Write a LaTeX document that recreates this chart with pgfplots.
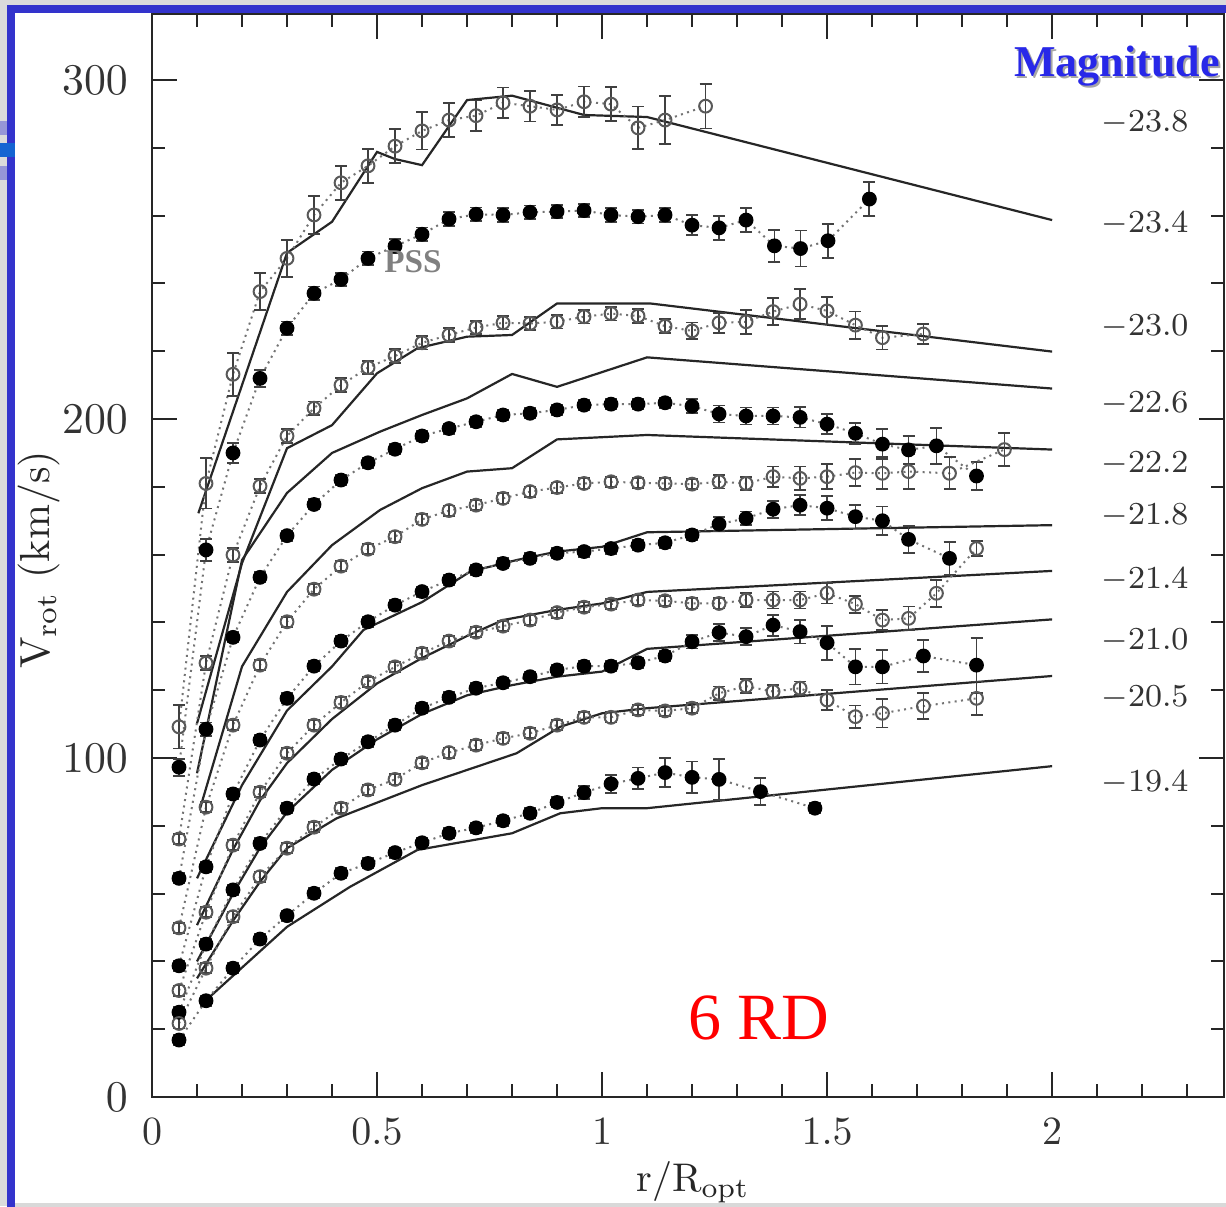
\documentclass[border=0pt]{standalone}
\usepackage{pgfplots}
\pgfplotsset{compat=1.18}
\usepackage{fontspec}
\newfontfamily\timesfont{Liberation Serif}
\definecolor{slideblue}{RGB}{51,51,204}
\definecolor{magblue}{RGB}{40,40,232}
\definecolor{stubblue}{RGB}{20,100,210}
\definecolor{lavender}{RGB}{150,150,215}
\pgfplotsset{
  dataline/.style={color=black!55, line width=0.5pt, dash pattern=on 0.5pt off 1.1pt,
    error bars/y dir=both, error bars/y explicit,
    error bars/error bar style={solid, line width=0.45pt, black!75},
    error bars/error mark options={rotate=90, mark size=1.5pt, solid, line width=0.45pt, black!75}},
  openS/.style={dataline, mark=o, mark size=1.6pt, mark options={solid, draw=black!65, line width=0.5pt, fill=none}},
  fillS/.style={dataline, mark=*, mark size=1.6pt, mark options={solid, draw=black, fill=black}},
  model/.style={black!85, line width=0.55pt, no markers, solid},
}
\begin{document}
\begin{tikzpicture}
\useasboundingbox (0,0) rectangle (306.5pt,301.5pt);
\clip (0,0) rectangle (306.5pt,301.5pt);
\begin{scope}[x=0.25pt,y=-0.25pt,yshift=301.5pt]
  \fill[gray!28] (0,0) rectangle (1226,1206);
  \fill[slideblue] (7,5) rectangle (1240,1210);
  \fill[white] (15,13) rectangle (1240,1203);
  \fill[gray!30] (15,1203) rectangle (1240,1210);
  \fill[lavender] (0,121) rectangle (7,135);
  \fill[stubblue] (0,143) rectangle (15,157);
  \fill[lavender] (0,166) rectangle (7,180);
\end{scope}
\begin{axis}[
  at={(38pt,27.25pt)}, anchor=south west, scale only axis,
  width=268pt, height=270.75pt,
  xmin=0, xmax=2.382, ymin=0, ymax=319.5,
  clip=false,
  axis line style={line width=0.6pt, black!85},
  xtick={0,0.5,1,1.5,2},
  minor xtick={0.1,0.2,0.3,0.4,0.6,0.7,0.8,0.9,1.1,1.2,1.3,1.4,1.6,1.7,1.8,1.9,2.1,2.2,2.3},
  ytick={0,100,200,300},
  minor ytick={20,40,60,80,120,140,160,180,220,240,260,280},
  xtick pos=both, ytick pos=both, xticklabel pos=lower, yticklabel pos=left,
  tick align=inside, major tick length=6.25pt, minor tick length=3.2pt,
  every tick/.style={line width=0.5pt, black!85},
  xticklabel style={font=\fontsize{10}{12}\selectfont, yshift=-2pt, text=black!80},
  yticklabel style={font=\fontsize{10.5}{12}\selectfont, xshift=-2.5pt, text=black!80},
]
% model curves
\addplot[model] coordinates {(0.103,172.2)(0.30,249)(0.40,258.2)(0.50,278.8)(0.54,276.7)(0.60,274.9)(0.70,294.1)(0.80,295.4)(0.96,289.7)(1.10,289.1)(2.0,258.7)};
\addplot[model] coordinates {(0.10,110.2)(0.20,157.5)(0.30,191.4)(0.40,198.2)(0.50,213.5)(0.59,220.9)(0.70,224.3)(0.80,224.8)(0.90,234.1)(1.107,234.1)(2.0,219.9)};
\addplot[model] coordinates {(0.10,95.5)(0.20,158.4)(0.30,178.2)(0.40,190)(0.507,196.3)(0.60,201.2)(0.70,206.1)(0.80,213.3)(0.90,209.5)(1.10,218.2)(2.0,209)};
\addplot[model] coordinates {(0.107,85.2)(0.20,127)(0.30,149)(0.40,162.8)(0.507,173.2)(0.60,179.6)(0.70,184.5)(0.80,185.5)(0.90,194)(1.10,195.3)(2.0,191)};
\addplot[model] coordinates {(0.10,64.5)(0.20,92)(0.30,114)(0.40,127)(0.47,137.8)(0.60,146)(0.707,155)(0.81,158.4)(0.90,160.9)(1.0,162.3)(1.10,166.6)(2.0,168.7)};
\addplot[model] coordinates {(0.10,50.7)(0.18,73)(0.24,87.5)(0.30,98.5)(0.40,111.5)(0.50,122)(0.60,129.5)(0.70,136)(0.78,140.7)(0.90,143.7)(1.0,145.6)(1.10,149)(2.0,155.2)};
\addplot[model] coordinates {(0.10,40)(0.18,60)(0.24,73.5)(0.30,84)(0.40,96.5)(0.50,105.5)(0.60,113)(0.70,118.5)(0.80,121.5)(0.90,124)(1.0,125.5)(1.10,132.2)(2.0,140.9)};
\addplot[model] coordinates {(0.10,35)(0.18,52)(0.24,63.5)(0.30,73.4)(0.41,82.2)(0.60,92)(0.81,101.4)(0.907,109.2)(1.0,113.2)(1.10,114.7)(2.0,124.2)};
\addplot[model] coordinates {(0.118,28.3)(0.30,50.2)(0.44,62)(0.59,72.9)(0.80,77.8)(0.907,83.7)(1.0,85.2)(1.1,85.2)(2.0,97.6)};
% S1 open
\addplot[openS] table[x index=0,y index=1,y error index=2,row sep=\\] {
0.06 109.2 6.4\\ 0.12 181 7.4\\ 0.18 213.2 6.4\\ 0.24 237.6 5.5\\ 0.30 247.4 5.5\\
0.36 260.2 5.5\\ 0.42 269.7 5\\ 0.48 274.7 5\\ 0.54 280.5 5\\ 0.60 285 5.5\\
0.66 288.2 5\\ 0.72 289.5 4.5\\ 0.78 293.3 4.5\\ 0.84 292.3 4.5\\ 0.90 291.2 4.5\\
0.96 293.6 4.5\\ 1.02 292.9 5\\ 1.08 285.9 6.3\\ 1.14 288.2 7\\ 1.23 292.3 6.6\\
};
% S2 filled
\addplot[fillS] table[x index=0,y index=1,y error index=2,row sep=\\] {
0.06 97.3 2.5\\ 0.12 161.4 3.2\\ 0.18 190 3\\ 0.24 212 2.5\\ 0.30 226.8 2\\
0.36 237.1 2\\ 0.42 241.2 2\\ 0.48 247.4 2\\ 0.54 251 2\\ 0.60 254.5 2\\
0.66 259 2\\ 0.72 260.4 2\\ 0.78 260.2 2\\ 0.84 261 2\\ 0.90 261.2 2\\
0.96 261.5 2\\ 1.02 260.2 2\\ 1.08 259.7 2\\ 1.14 260.2 2\\ 1.20 257.2 3\\
1.26 256.4 3.5\\ 1.32 258.7 3.5\\ 1.383 251.1 4.7\\ 1.441 250.3 5.3\\ 1.502 252.6 5\\
1.594 264.9 5\\
};
% S3 open
\addplot[openS] table[x index=0,y index=1,y error index=2,row sep=\\] {
0.06 76.1 1.5\\ 0.12 128 2\\ 0.18 159.9 2\\ 0.24 180.2 2\\ 0.30 195 2\\
0.36 203.2 2\\ 0.42 210 2\\ 0.48 215.2 2\\ 0.54 218.6 2\\ 0.60 222.5 2\\
0.66 224.8 2\\ 0.72 227 2\\ 0.78 228.4 2\\ 0.84 228.2 2\\ 0.90 228.7 2\\
0.96 230.2 2\\ 1.02 231.1 2\\ 1.08 230.4 2\\ 1.14 227.4 2\\ 1.20 226 2.5\\
1.26 228.4 3\\ 1.32 228.7 3.5\\ 1.38 231.7 4\\ 1.44 233.9 4.5\\ 1.50 231.9 4\\
1.563 227.7 4\\ 1.623 224 3.5\\ 1.714 225.1 3\\
};
% S4 filled
\addplot[fillS] table[x index=0,y index=1,y error index=2,row sep=\\] {
0.06 64.5 1.5\\ 0.12 108.5 2\\ 0.18 135.6 1.5\\ 0.24 153.3 1.5\\ 0.30 165.6 1.5\\
0.36 174.8 1.5\\ 0.42 182 1.5\\ 0.48 187.1 1.5\\ 0.54 191.1 1.5\\ 0.60 195 1.5\\
0.66 197.2 1.5\\ 0.72 199.2 1.5\\ 0.78 201.2 1.5\\ 0.84 201.7 1.5\\ 0.90 202.7 1.5\\
0.96 204.1 1.5\\ 1.02 204.4 1.5\\ 1.08 204.4 1.5\\ 1.14 204.8 1.5\\ 1.20 203.8 2\\
1.26 201.5 2.5\\ 1.32 200.9 2.5\\ 1.38 200.9 2.5\\ 1.44 200.5 3\\ 1.50 198.5 3\\
1.563 195.8 3.1\\ 1.623 192.6 4.5\\ 1.681 190.9 4.2\\ 1.743 192.1 5.3\\ 1.832 183.2 4.2\\
};
% S5 open
\addplot[openS] table[x index=0,y index=1,y error index=2,row sep=\\] {
0.06 49.9 1.5\\ 0.12 85.5 1.5\\ 0.18 109.7 1.5\\ 0.24 127.4 1.5\\ 0.30 140.2 1.5\\
0.36 149.8 1.5\\ 0.42 156.6 1.5\\ 0.48 161.6 1.5\\ 0.54 165.3 1.5\\ 0.60 170.4 1.5\\
0.66 173 1.5\\ 0.72 174.6 1.5\\ 0.78 176.6 1.5\\ 0.84 178.6 1.5\\ 0.90 179.8 1.5\\
0.96 181 1.5\\ 1.02 181.5 1.5\\ 1.08 181.2 1.5\\ 1.14 181 1.5\\ 1.20 180.8 1.5\\
1.26 181.5 2\\ 1.32 181 2\\ 1.38 183 3\\ 1.44 182.5 3.5\\ 1.50 183 3.7\\
1.563 184.2 3.9\\ 1.623 184 4.7\\ 1.681 184.5 5.2\\ 1.772 184 4.7\\ 1.894 191 4.9\\
};
% S6 filled
\addplot[fillS] table[x index=0,y index=1,y error index=2,row sep=\\] {
0.06 38.7 1.5\\ 0.12 67.9 1.5\\ 0.18 89.4 1.5\\ 0.24 105.3 1.5\\ 0.30 117.6 1.5\\
0.36 127.1 1.5\\ 0.42 134.5 1.5\\ 0.48 140.2 1.5\\ 0.54 145.1 1.5\\ 0.60 149.1 1.5\\
0.66 152.5 1.5\\ 0.72 155.5 1.5\\ 0.78 157.4 1.5\\ 0.84 158.9 1.5\\ 0.90 160.4 1.5\\
0.96 160.9 1.5\\ 1.02 161.8 1.5\\ 1.08 162.8 1.5\\ 1.14 163.5 1.5\\ 1.20 165.8 1.5\\
1.26 169 2\\ 1.32 170.7 2\\ 1.38 173.4 2.5\\ 1.44 174.6 3\\ 1.50 173.7 3.5\\
1.563 171.2 3.5\\ 1.623 170 4.2\\ 1.681 164.5 3.9\\ 1.772 158.9 4.9\\
};
% S7 open
\addplot[openS] table[x index=0,y index=1,y error index=2,row sep=\\] {
0.06 31.4 1.5\\ 0.12 54.5 1.5\\ 0.18 74.3 1.5\\ 0.24 89.9 1.5\\ 0.30 101.4 1.5\\
0.36 109.7 1.5\\ 0.42 116.4 1.5\\ 0.48 122.5 1.5\\ 0.54 126.9 1.5\\ 0.60 130.9 1.5\\
0.66 134.5 1.5\\ 0.72 137.1 1.5\\ 0.78 138.9 1.5\\ 0.84 140.7 1.5\\ 0.90 142.9 1.5\\
0.96 144.5 1.5\\ 1.02 145.4 1.5\\ 1.08 146.6 1.5\\ 1.14 146.4 1.5\\ 1.20 145.6 1.5\\
1.26 145.6 1.5\\ 1.32 146.6 2\\ 1.38 146.6 2.5\\ 1.44 146.6 2.5\\ 1.50 148.6 3\\
1.563 145.4 2.5\\ 1.623 140.7 3\\ 1.681 141.2 3.5\\ 1.743 148.6 4\\ 1.832 161.8 2.2\\
};
% S8 filled
\addplot[fillS] table[x index=0,y index=1,y error index=2,row sep=\\] {
0.06 25 1.5\\ 0.12 45.1 1.5\\ 0.18 61.1 1.5\\ 0.24 74.8 1.5\\ 0.30 85.2 1.5\\
0.36 93.8 1.5\\ 0.42 99.7 1.5\\ 0.48 104.8 1.5\\ 0.54 109.7 1.5\\ 0.60 114.7 1.5\\
0.66 117.9 1.5\\ 0.72 120.6 1.5\\ 0.78 122.2 1.5\\ 0.84 124 1.5\\ 0.90 126 1.5\\
0.96 127.1 1.5\\ 1.02 127.1 1.5\\ 1.08 128.1 1.5\\ 1.14 130.1 1.5\\ 1.20 134.3 2\\
1.26 137 2.5\\ 1.32 135.8 2.5\\ 1.38 139.2 3.1\\ 1.44 137.3 3.5\\ 1.50 134 5\\
1.563 126.9 5.2\\ 1.623 126.9 4.9\\ 1.714 130.1 4.7\\ 1.832 127.4 8.1\\
};
% S9 open
\addplot[openS] table[x index=0,y index=1,y error index=2,row sep=\\] {
0.06 21.7 1.5\\ 0.12 38 1.5\\ 0.18 53.2 1.5\\ 0.24 65 1.5\\ 0.30 73.4 1.5\\
0.36 79.6 1.5\\ 0.42 85.2 1.5\\ 0.48 90.6 1.5\\ 0.54 93.7 1.5\\ 0.60 98.6 1.5\\
0.66 101.6 1.5\\ 0.72 103.8 1.5\\ 0.78 105.8 1.5\\ 0.84 107.3 1.5\\ 0.90 109.7 1.5\\
0.96 112 1.5\\ 1.02 112 1.5\\ 1.08 114.2 1.5\\ 1.14 113.9 1.5\\ 1.20 114.7 1.5\\
1.26 119.1 2\\ 1.32 121.2 2\\ 1.38 119.6 2\\ 1.44 120.6 2\\ 1.50 117.1 3\\
1.563 112.2 3.3\\ 1.623 113.2 4.2\\ 1.714 115.3 3.8\\ 1.832 117.6 5\\
};
% S10 filled
\addplot[fillS] table[x index=0,y index=1,y error index=2,row sep=\\] {
0.06 16.8 1.5\\ 0.12 28.4 1.5\\ 0.18 38 1.5\\ 0.24 46.6 1.5\\ 0.30 53.5 1.5\\
0.36 60.1 1.5\\ 0.42 66 1.5\\ 0.48 68.9 1.5\\ 0.54 72.1 1.5\\ 0.60 75 1.5\\
0.66 77.8 1.5\\ 0.72 79.4 1.5\\ 0.78 81.5 1.5\\ 0.84 83.7 1.5\\ 0.90 86.9 1.5\\
0.96 89.8 2\\ 1.02 92.4 2.7\\ 1.08 94 3.2\\ 1.14 95.7 4.3\\ 1.20 94.3 4.7\\
1.26 93.7 6\\ 1.352 90.1 3.9\\ 1.473 85.2 1.5\\
};
\end{axis}
\begin{scope}[x=0.25pt,y=-0.25pt,yshift=301.5pt]
  \node[font=\timesfont\bfseries\fontsize{11}{13}\selectfont, text=black!35] at (1119,68) {Magnitude};
  \node[font=\timesfont\bfseries\fontsize{11}{13}\selectfont, text=magblue] at (1117,66) {Magnitude};
  \node[font=\timesfont\bfseries\fontsize{8.3}{10}\selectfont, text=black!50] at (413,262) {PSS};
  \node[font=\timesfont\fontsize{16.5}{20}\selectfont, text=red] at (759,1018) {6 RD};
  \node[font=\fontsize{10}{12}\selectfont, text=black!85] at (693,1182) {r/R$_{\rm opt}$};
  \node[font=\fontsize{10.5}{12}\selectfont, text=black!85, rotate=90] at (39,560) {V$_{\rm rot}$ (km/s)};
  \begin{scope}[every node/.style={font=\fontsize{8.5}{10}\selectfont, text=black!80}]
    \node at (1145,123) {$-23.8$};
    \node at (1145,224) {$-23.4$};
    \node at (1145,327) {$-23.0$};
    \node at (1145,404) {$-22.6$};
    \node at (1145,464) {$-22.2$};
    \node at (1145,516) {$-21.8$};
    \node at (1145,580) {$-21.4$};
    \node at (1145,641) {$-21.0$};
    \node at (1145,698) {$-20.5$};
    \node at (1145,783) {$-19.4$};
  \end{scope}
\end{scope}
\end{tikzpicture}
\end{document}
